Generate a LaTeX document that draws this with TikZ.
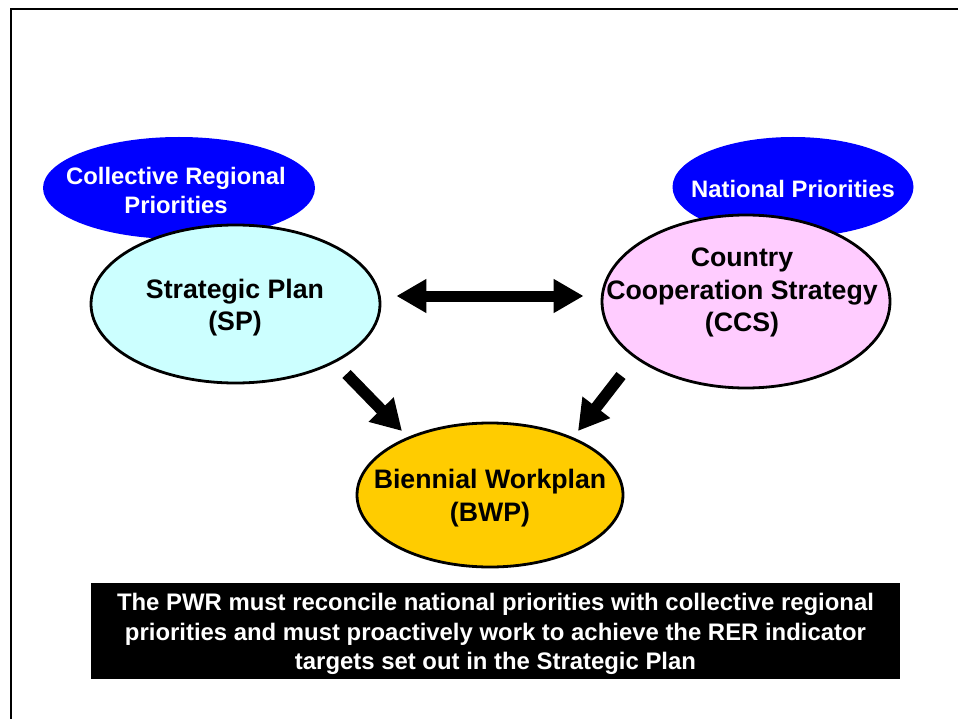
\documentclass[tikz,border=0pt]{standalone}
\usepackage{fontspec}
\setmainfont{Liberation Sans}
\usetikzlibrary{arrows.meta,calc,shapes.geometric}
\definecolor{bluefill}{HTML}{0000FF}
\definecolor{spfill}{HTML}{CCFFFF}
\definecolor{ccsfill}{HTML}{FFCCFF}
\definecolor{bwpfill}{HTML}{FFCC00}
\tikzset{
  blueell/.style={ellipse, fill=bluefill, inner sep=0pt},
  bluetext/.style={text=white, align=center, font=\fontsize{23.8}{29}\selectfont\bfseries},
  mainell/.style={ellipse, draw=black, line width=2.8pt, inner sep=0pt},
  maintext/.style={align=center, font=\fontsize{26.7}{32.8}\selectfont\bfseries},
  bigarrow/.style={line width=11.5pt, -{Triangle[length=30pt,width=33pt]}},
  dblarrow/.style={line width=11pt, {Triangle[length=30pt,width=32pt]}-{Triangle[length=30pt,width=32pt]}},
  notebox/.style={fill=black, inner sep=0pt, minimum width=809pt, minimum height=96pt},
  notetext/.style={text=white, align=center, font=\fontsize{23.9}{29.5}\selectfont\bfseries}
}
\begin{document}
\begin{tikzpicture}[x=1pt, y=-1pt]
\useasboundingbox (0,0) rectangle (958,719);
% slide frame
\draw[line width=2.5pt] (11,719) -- (11,9) -- (958,9);
% blue priority ellipses
\node[blueell, minimum width=272pt, minimum height=102pt] (crp) at (179,188) {};
\node[bluetext] (crptext) at (176,190) {Collective Regional\\Priorities};
\node[blueell, minimum width=241pt, minimum height=100pt] (np) at (793,187) {};
\node[bluetext] (nptext) at (793,189) {National Priorities};
% main ellipses
\node[mainell, fill=spfill, minimum width=289pt, minimum height=158pt] (sp) at (235.5,304) {};
\node[maintext] (sptext) at (235,307.5) {Strategic Plan\\(SP)};
\node[mainell, fill=ccsfill, minimum width=288pt, minimum height=173pt] (ccs) at (746,301.5) {};
\node[maintext] (ccstext) at (742,292.5) {Country\\Cooperation Strategy\\(CCS)};
\node[mainell, fill=bwpfill, minimum width=266pt, minimum height=144pt] (bwp) at (490,495) {};
\node[maintext] (bwptext) at (490,498) {Biennial Workplan\\(BWP)};
% arrows
\draw[dblarrow] ($(sp.east)+(15,-8)$) -- ($(ccs.west)+(-17,-5.5)$);
\draw[bigarrow] ($(sp.center)+(111,70)$) -- ($(bwp.center)+(-88,-64)$);
\draw[bigarrow] ($(ccs.center)+(-125,74)$) -- ($(bwp.center)+(88,-64)$);
% note box
\node[notebox] (note) at (495.5,631) {};
\node[notetext] (notetxt) at (495.5,634)
  {The PWR must reconcile national priorities with collective regional\\priorities and must proactively work to achieve the RER indicator\\targets set out in the Strategic Plan};
\end{tikzpicture}
\end{document}
